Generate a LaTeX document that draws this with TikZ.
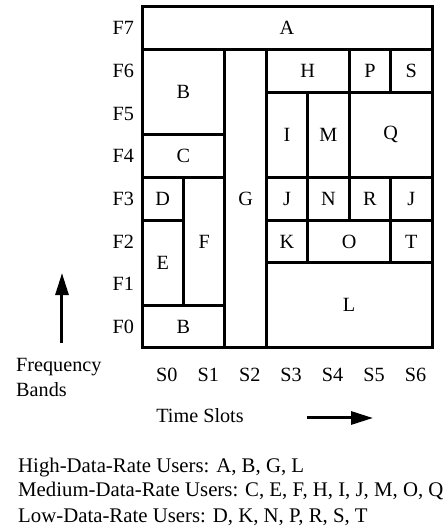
\documentclass[tikz,border=0pt]{standalone}
\usepackage{fontspec}
\setmainfont{Liberation Serif}
\usetikzlibrary{arrows.meta}

\begin{document}
\begin{tikzpicture}
[x=41.43pt, y=42.63pt,
  celldecorate/.style={shape=rectangle,draw,line width=3pt,inner sep=0pt},
  textdecorate/.style={inner sep=0pt},
  legenddecorate/.style={inner sep=0pt,anchor=base west,font=\fontsize{20.8}{24}\selectfont},
  arrowdecorate/.style={-{Triangle[length=22pt,width=13pt]},line width=3pt},
  font=\fontsize{20.2}{24}\selectfont]
\useasboundingbox (-3.4275,-4.2458) rectangle (7.3135,8.1633);
%% users or cells
\foreach \cellname/\usr/\xa/\ya/\xb/\yb in {
  %% slots S0 to S2
  A/A/0/7/7/8, B1/B/0/5/2/7, C/C/0/4/2/5, D/D/0/3/1/4,
  E/E/0/1/1/3, F/F/1/1/2/4, B2/B/0/0/2/1, G/G/2/0/3/7,
  %% slots S3 to S6
  H/H/3/6/5/7, P/P/5/6/6/7, S/S/6/6/7/7, I/I/3/4/4/6,
  M/M/4/4/5/6, Q/Q/5/4/7/6, J1/J/3/3/4/4, N/N/4/3/5/4,
  R/R/5/3/6/4, J2/J/6/3/7/4, K/K/3/2/4/3, O/O/4/2/6/3,
  T/T/6/2/7/3, L/L/3/0/7/2}
{
  \pgfmathsetlengthmacro\cellw{(\xb-\xa)*41.43pt}
  \pgfmathsetlengthmacro\cellh{(\yb-\ya)*42.63pt}
  \node (\cellname) at ({(\xa+\xb)/2},{(\ya+\yb)/2})
    [celldecorate,minimum width=\cellw,minimum height=\cellh] {\usr};
}
%% axis labels
\foreach \band in {0,...,7}
  \node (band\band) at (-0.19,\band+0.5) [textdecorate,anchor=east] {F\band};
\foreach \slot in {0,...,6}
  \node (slot\slot) at (\slot+0.6,-0.633) [textdecorate] {S\slot};
\node (freq) at (-3.041,-0.551) [textdecorate,anchor=base west] {Frequency};
\node (bands) at ([yshift=-25pt]freq.base west) [textdecorate,anchor=base west] {Bands};
\node (time) at (1.40,-1.595) [textdecorate] {Time Slots};
%% arrows
\coordinate (freqtail) at (-1.931,0.117);
\coordinate (freqhead) at (-1.931,1.759);
\coordinate (timetail) at (3.983,-1.642);
\coordinate (timehead) at (5.576,-1.642);
\draw[arrowdecorate] (freqtail) -- (freqhead);
\draw[arrowdecorate] (timetail) -- (timehead);
%% legend
\node (high) at (-2.993,-2.909) [legenddecorate]
  {High-Data-Rate Users: A, B, G, L};
\node (medium) at (-2.993,-3.495) [legenddecorate]
  {Medium-Data-Rate Users: C, E, F, H, I, J, M, O, Q};
\node (low) at (-2.993,-4.082) [legenddecorate]
  {Low-Data-Rate Users: D, K, N, P, R, S, T};
\end{tikzpicture}
\end{document}
